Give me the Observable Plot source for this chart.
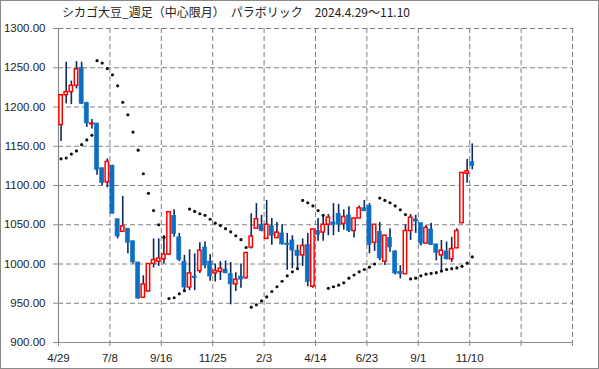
<!DOCTYPE html>
<html><head><meta charset="utf-8">
<script src="https://cdn.jsdelivr.net/npm/d3@7"></script>
<script src="https://cdn.jsdelivr.net/npm/@observablehq/plot@0.6"></script>
<style>
html,body{margin:0;padding:0;background:#fff;}
#wrap{position:relative;width:599px;height:369px;overflow:hidden;}
#chart{position:absolute;left:0;top:0;}
#title{position:absolute;left:62px;top:4px;font-family:"Noto Sans CJK JP",sans-serif;font-size:12px;line-height:16px;color:#222;white-space:pre;}
#border{position:absolute;left:0;top:0;width:599px;height:369px;box-sizing:border-box;border:1px solid #8a8a8a;pointer-events:none;}
</style></head><body>
<div id="wrap"><div id="chart"></div><div id="title">シカゴ大豆_週足（中心限月）　パラボリック　2024.4.29～11.10</div><div id="border"></div></div>
<script>
// weekly candles, week index 0 = 2024/4/29
const openV  = [1177,1215,1219,1227,1250,1205,1178,1179,1122,1104,1125,1057,1041,1045,1029,1002,957,965,1000,1003,1006,1012,1061,1034,1003,970,984,991,1021,1003,988,990,993,987,974,984,982,1021,1045,1050,1032,1048,1033,1039,1026,1030,1017,1011,1024,971,1042,1040,1050,1053,1064,1051,1062,1042,1058,1071,1074,1027,1041,1003,1033,1016,990,987,1042,1057,1052,1026,1044,1025,1011,1016,1006,1020,1052,1115,1130];
const highV  = [1216,1257,1233,1258,1257,1206,1184,1179,1122,1134,1126,1057,1086,1045,1029,1002,985,1000,1032,1032,1036,1066,1069,1039,1011,1018,1013,1027,1028,1012,1000,1003,1004,1002,989,1000,1014,1064,1077,1062,1081,1058,1053,1050,1039,1036,1024,1032,1039,1044,1058,1062,1063,1077,1076,1069,1073,1058,1074,1081,1077,1050,1053,1036,1045,1017,998,1050,1063,1062,1052,1049,1052,1025,1030,1028,1034,1045,1116,1133,1153];
const lowV   = [1156,1204,1203,1223,1203,1174,1172,1113,1100,1097,1064,1032,1041,1013,1000,955,956,964,995,997,1000,1011,1034,1003,966,966,966,988,994,978,977,979,988,948,965,969,981,1019,1045,1041,1032,1024,1033,1024,992,994,994,997,971,969,1029,1029,1036,1036,1040,1043,1040,1033,1058,1067,1013,1016,1004,998,1015,986,981,987,1030,1039,1023,1026,1024,1004,989,1005,1002,1020,1052,1103,1120];
const closeV = [1215,1219,1227,1248,1204,1179,1179,1120,1103,1130,1064,1035,1048,1027,1002,956,974,1000,1005,1007,1012,1066,1038,1005,970,988,982,1017,998,984,991,994,988,974,980,980,1014,1035,1057,1042,1050,1036,1040,1025,1024,1017,1010,1023,977,1044,1037,1050,1059,1050,1050,1060,1042,1058,1071,1067,1024,1050,1007,1036,1021,988,987,1042,1059,1054,1026,1046,1024,1014,1017,1006,1019,1042,1116,1118,1125];
// parabolic SAR
const sarV   = [1134,1135,1140,1144,1152,1158,1164,1259,1256,1249,1241,1227,1206,1190,1168,1145,1115,1090,1068,1050,1034,956,957,962,966,1070,1067,1064,1062,1057,1052,1049,1045,1041,1036,1031,1021,945,948,953,958,965,971,978,985,990,994,1081,1078,1074,1068,1062,969,971,973,976,982,986,990,993,996,1000,1084,1081,1078,1074,1069,1063,981,982,985,987,988,989,991,993,994,995,997,1001,1009];
// axis
const xTickLabels = ["4/29","7/8","9/16","11/25","2/3","4/14","6/23","9/1","11/10","",""];
const xTickWeeks  = [0,10,20,30,40,50,60,70,80,90,100];
const yTicks = [900,950,1000,1050,1100,1150,1200,1250,1300];

const candles = openV.map((o,i)=>({w:i, o, h:highV[i], l:lowV[i], c:closeV[i], up: closeV[i] >= o}));
const sar = sarV.map((v,i)=>({w:i, v}));
const labelOf = new Map(xTickWeeks.map((w,i)=>[w, xTickLabels[i]]));

const chart = Plot.plot({
  width: 599, height: 369,
  marginLeft: 58, marginRight: 27, marginTop: 28, marginBottom: 27,
  style: {fontFamily: "'Liberation Sans', Arial, sans-serif", fontSize: "11.5px", color: "#222", background: "transparent"},
  x: {type: "linear", domain: [0, 100]},
  y: {domain: [900, 1300]},
  marks: [
    Plot.ruleY(yTicks.filter(v => v > 900), {y: d => d, stroke: "#7f7f7f", strokeWidth: 1, strokeDasharray: "5,3"}),
    Plot.ruleX(xTickWeeks.filter(v => v > 0), {x: d => d, stroke: "#7f7f7f", strokeWidth: 1, strokeDasharray: "5,3"}),
    Plot.ruleX([0], {stroke: "#8a8a8a", strokeWidth: 1.2}),
    Plot.ruleY([900], {stroke: "#8a8a8a", strokeWidth: 1.2}),
    Plot.axisY({ticks: yTicks, tickFormat: d => d.toFixed(2), tickSize: 5, tickPadding: 8, label: null, stroke: "#8a8a8a", fill: "#222"}),
    Plot.axisX({ticks: xTickWeeks, tickFormat: d => labelOf.get(d) ?? "", tickSize: 4, tickPadding: 7, label: null, stroke: "#8a8a8a", fill: "#222"}),
    Plot.ruleX(candles, {x: d => d.w + 0.5, y1: "l", y2: "h", stroke: "#0e2a5c", strokeWidth: 1.6}),
    Plot.rect(candles.filter(d => !d.up), {x1: d => d.w + 0.5 - 0.4, x2: d => d.w + 0.5 + 0.4, y1: "o", y2: "c", fill: "#0a70c4", stroke: "#0a70c4", strokeWidth: 0.6}),
    Plot.rect(candles.filter(d => d.up), {x1: d => d.w + 0.5 - 0.33, x2: d => d.w + 0.5 + 0.33, y1: "o", y2: "c", fill: "white", stroke: "#ff0000", strokeWidth: 1.5}),
    Plot.dot(sar, {x: d => d.w + 0.5, y: "v", r: 1.6, fill: "#111", stroke: "none"})
  ]
});
document.getElementById("chart").appendChild(chart);
</script>
</body></html>
